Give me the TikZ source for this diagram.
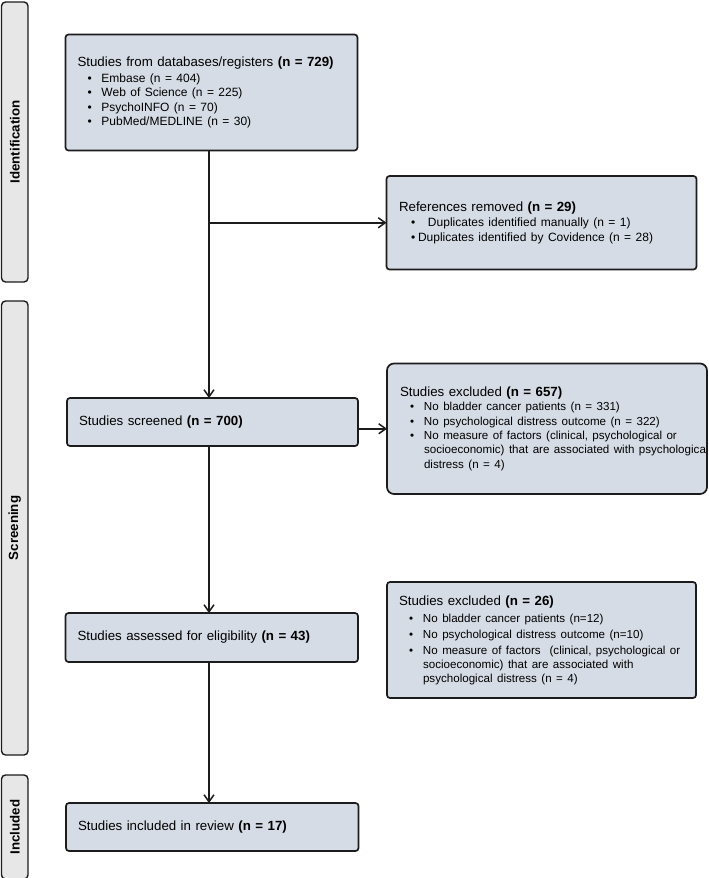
\documentclass[tikz,border=0pt]{standalone}
\usepackage{fontspec}
\setmainfont{Liberation Sans}
\usetikzlibrary{arrows.meta,positioning}

\definecolor{boxfill}{RGB}{214,220,229}
\definecolor{barfill}{RGB}{231,231,231}
\definecolor{boxline}{RGB}{28,28,28}

\newcommand{\itemfont}{\fontsize{12}{14.5}\selectfont}
\newcommand{\smallitemfont}{\fontsize{11.6}{14.4}\selectfont}
\newcommand{\bitem}{\makebox[24pt][l]{\hspace{10pt}\textbullet}}

\tikzset{
	flowbox/.style={rectangle,draw=boxline,line width=1.7pt,fill=boxfill,rounded corners=3pt,
		anchor=north west,outer sep=0pt,inner xsep=12pt,inner ysep=0pt,align=left,
		font=\fontsize{13.3}{14.5}\selectfont},
	stagebar/.style={rectangle,draw=boxline,line width=1.4pt,fill=barfill,rounded corners=4pt,
		rotate=90,outer sep=0pt,inner sep=0pt,minimum height=26.5pt,
		font=\bfseries\fontsize{13.3}{14}\selectfont},
	flowarrow/.style={arrows={-{Straight Barb[length=7pt,width=10pt]}},line width=1.5pt,color=boxline}
}

\begin{document}
\begin{tikzpicture}[x=1pt,y=-1pt]
	\useasboundingbox (0,0) rectangle (709,878);
	
	% stage bars on the left
	\node[stagebar,minimum width=280pt] (identbar) at (14.75,142) {Identification};
	\node[stagebar,minimum width=454pt] (screenbar) at (14.75,528) {Screening};
	\node[stagebar,minimum width=104pt] (inclbar) at (14.75,827) {Included};
	
	\coordinate (spine) at (209,0);
	
	\node[flowbox,text width=268pt,minimum height=116pt] (sources)
	at (65.5,34.5) {Studies from databases/registers \textbf{(n = 729)}\\[1.5pt]
		{\itemfont\bitem Embase (n = 404)}\\
		{\itemfont\bitem Web of Science (n = 225)}\\
		{\itemfont\bitem PsychoINFO (n = 70)}\\
		{\itemfont\bitem PubMed/MEDLINE (n = 30)}};
	
	\node[flowbox,text width=285pt,minimum height=93.5pt,inner xsep=12.5pt] (removed)
	at (386.5,176) {References removed \textbf{(n = 29)}\\[0.5pt]
		{\itemfont\makebox[29pt][l]{\hspace{12pt}\textbullet}Duplicates identified manually (n = 1)}\\
		{\itemfont\makebox[19pt][l]{\hspace{12pt}\textbullet}Duplicates identified by Covidence (n = 28)}};
	
	\node[flowbox,text width=267pt,minimum height=48pt] (screened)
	at (67,398) {Studies screened \textbf{(n = 700)}};
	
	\node[flowbox,text width=294pt,minimum height=130.5pt,inner xsep=13pt,rounded corners=7pt,
	font=\fontsize{13.3}{14.4}\selectfont] (excluded1)
	at (387,363.5) {Studies excluded \textbf{(n = 657)}\\
		{\smallitemfont\bitem No bladder cancer patients (n = 331)}\\
		{\smallitemfont\bitem No psychological distress outcome (n = 322)}\\
		{\smallitemfont\bitem No measure of factors (clinical, psychological or}\\
		{\smallitemfont\hspace*{24pt}\mbox{socioeconomic) that are associated with psychologica}}\\
		{\smallitemfont\hspace*{24pt}distress (n = 4)}};
	
	\node[flowbox,text width=268.5pt,minimum height=49pt] (assessed)
	at (65.5,613) {Studies assessed for eligibility \textbf{(n = 43)}};
	
	\node[flowbox,text width=285pt,minimum height=116pt,font=\fontsize{13.3}{14}\selectfont] (excluded2)
	at (387,582) {Studies excluded \textbf{(n = 26)}\\[3pt]
		{\smallitemfont\bitem No bladder cancer patients (n=12)}\\[2pt]
		{\smallitemfont\bitem No psychological distress outcome (n=10)}\\[2pt]
		{\smallitemfont\bitem \mbox{No measure of factors\ \ (clinical, psychological or}}\\
		{\smallitemfont\hspace*{24pt}socioeconomic) that are associated with}\\
		{\smallitemfont\hspace*{24pt}psychological distress (n = 4)}};
	
	\node[flowbox,text width=268.5pt,minimum height=48pt] (included)
	at (66,803) {Studies included in review \textbf{(n = 17)}};
	
	% connectors
	\path[flowarrow] (sources.south -| spine) edge (screened.north -| spine);
	\path[flowarrow] (removed.west -| spine) edge (removed.west);
	\path[flowarrow] (screened.east |- excluded1.west) edge (excluded1.west);
	\path[flowarrow] (screened.south -| spine) edge (assessed.north -| spine);
	\path[flowarrow] (assessed.south -| spine) edge (included.north -| spine);
\end{tikzpicture}
\end{document}
